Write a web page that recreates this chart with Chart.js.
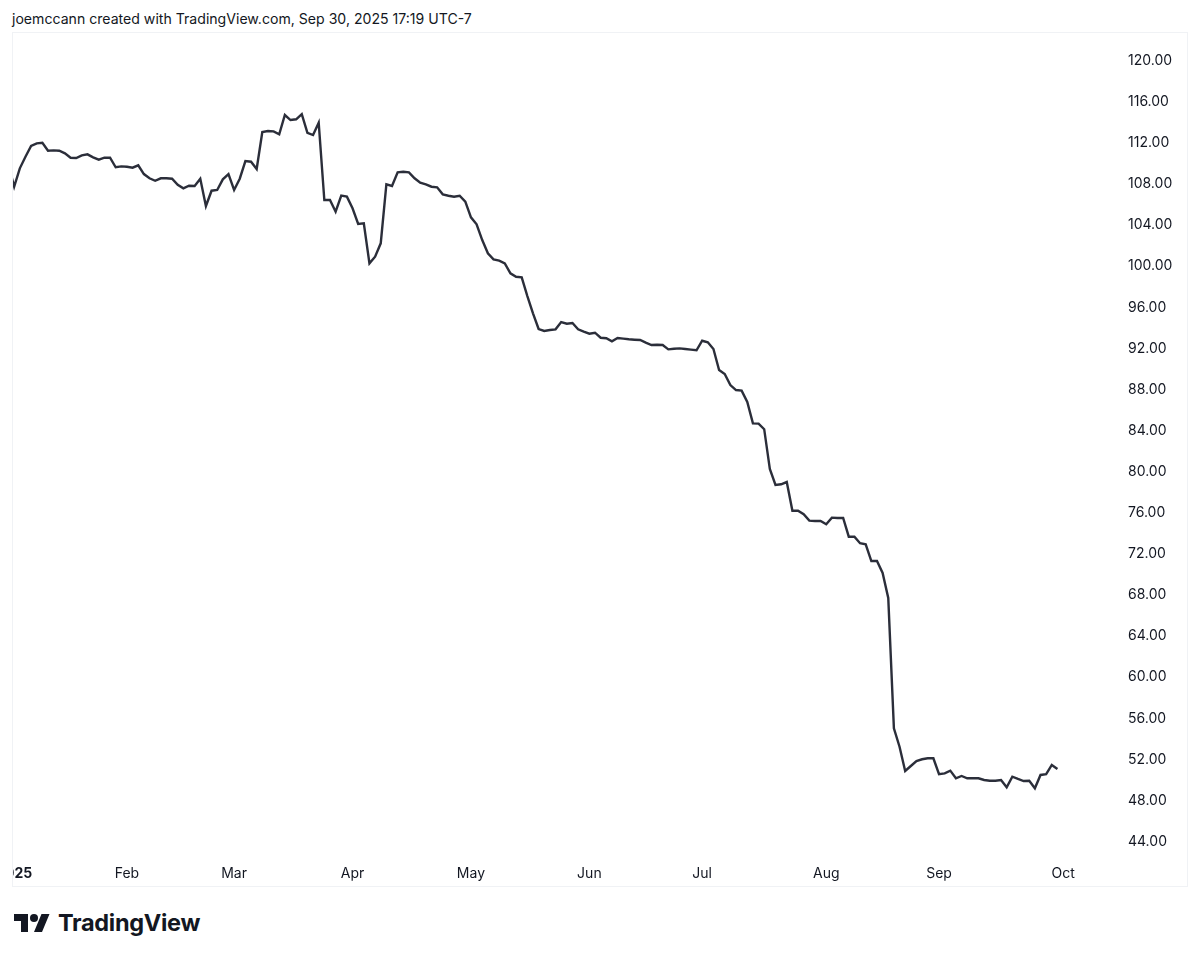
<!DOCTYPE html>
<html>
<head>
<meta charset="utf-8">
<title>Price chart</title>
<script src="https://cdn.jsdelivr.net/npm/chart.js@4.4.1/dist/chart.umd.min.js"></script>
<style>
    body { margin: 0; background: #fff; width: 1200px; height: 959px; position: relative; overflow: hidden;
           font-family: Inter, "Noto Sans", Roboto, sans-serif; color: #131722; }
    #hdr { position: absolute; left: 12px; top: 10px; font-size: 14.1px; line-height: 18px; white-space: nowrap; }
    #box { position: absolute; left: 12px; top: 32px; width: 1176px; height: 855px;
           box-sizing: border-box; border: 1px solid #f0f2f5; }
    #box canvas { display: block; }
    #logo { position: absolute; left: 14px; top: 910px; }
    #brand { position: absolute; left: 58px; top: 908px; font-size: 23.5px; line-height: 30px; font-weight: 700;
             letter-spacing: -0.3px; }
</style>
</head>
<body>
<div id="hdr">joemccann created with TradingView.com, Sep 30, 2025 17:19 UTC-7</div>
<div id="box"><canvas id="chart"></canvas></div>
<svg id="logo" width="36" height="28" viewBox="0 0 36 28">
    <path d="M14 22H7V11H0V4h14v18zM28 22h-8l7.5-18h8L28 22z" fill="#131722"/>
    <circle cx="20" cy="8" r="4" fill="#131722"/>
</svg>
<div id="brand">TradingView</div>
<script>
// daily closes, Dec 31 2024 then every trading day Jan 2 .. Sep 30 2025
const closes = [
    109.85,
    107.74, 109.53, 110.66, 111.70, 111.96, 112.02, 111.24, 111.28, 111.24, 110.99,
    110.56, 110.53, 110.79, 110.89, 110.60, 110.37, 110.56, 110.56, 109.63, 109.72,
    109.68, 109.59, 109.82, 108.97, 108.56, 108.32, 108.56, 108.56, 108.52, 107.93,
    107.58, 107.84, 107.81, 108.52, 105.86, 107.35, 107.42, 108.46, 108.97,
    107.42, 108.52, 110.24, 110.17, 109.46, 113.06, 113.16, 113.13, 112.84, 114.72,
    114.23, 114.30, 114.81, 112.99, 112.77, 113.97, 106.44, 106.44, 105.31, 106.88,
    106.77,
    105.64, 104.11, 104.18, 100.28, 100.93, 102.23, 107.97, 107.81, 109.14, 109.20,
    109.14, 108.56, 108.13, 107.97, 107.74, 107.68, 107.00, 106.86, 106.77, 106.86,
    106.28,
    104.76, 104.08, 102.55, 101.26, 100.67, 100.54, 100.28, 99.31, 98.98, 98.92,
    97.10, 95.42, 93.89, 93.70, 93.79, 93.86, 94.57, 94.41, 94.47, 93.86,
    93.63,
    93.43, 93.53, 93.04, 92.99, 92.69, 93.01, 92.95, 92.89, 92.85, 92.82,
    92.56, 92.33, 92.36, 92.33, 91.91, 91.97, 92.01, 91.94, 91.88, 91.82,
    92.75, 92.60, 91.94, 89.90, 89.51, 88.44, 87.95, 87.89, 86.79, 84.71,
    84.68, 84.14, 80.27, 78.71, 78.78, 79.00, 76.21, 76.21, 75.86, 75.24,
    75.21, 75.21,
    74.89, 75.53, 75.50, 75.50, 73.68, 73.68, 73.04, 72.94, 71.31, 71.31,
    70.15, 67.71, 55.03, 53.24, 50.88, 51.36, 51.85, 52.02, 52.11, 52.11,
    50.56, 50.65, 50.91, 50.17, 50.39, 50.17, 50.17, 50.17, 50.00, 49.93,
    49.93, 50.00, 49.29, 50.32, 50.10, 49.90, 49.93, 49.19, 50.49, 50.56,
    51.46, 51.07
];
// trading-day index of the first session of each month (Jan 2 = 0)
const monthStarts = [0, 20, 39, 60, 81, 102, 122, 144, 164, 186];
const monthLabels = ['2025', 'Feb', 'Mar', 'Apr', 'May', 'Jun', 'Jul', 'Aug', 'Sep', 'Oct'];
const priceTicks = [44, 48, 52, 56, 60, 64, 68, 72, 76, 80, 84, 88, 92, 96, 100, 104, 108, 112, 116, 120];

const points = closes.map((v, i) => ({x: i - 1, y: v}));
const tickFont = {family: 'Inter, "Noto Sans", sans-serif', size: 14};

new Chart(document.getElementById('chart').getContext('2d'), {
    type: 'line',
    data: {
        datasets: [{
            data: points,
            borderColor: '#2b2e3a',
            borderWidth: 2.4,
            pointRadius: 0,
            tension: 0,
            fill: false,
            clip: 0
        }]
    },
    options: {
        animation: false,
        responsive: true,
        maintainAspectRatio: false,
        layout: {padding: 0},
        plugins: {legend: {display: false}, tooltip: {enabled: false}},
        scales: {
            x: {
                type: 'linear',
                min: -0.21,
                max: 195.74,
                grid: {display: false, drawTicks: false},
                border: {display: false},
                afterBuildTicks: (scale) => {
                    scale.ticks = monthStarts.map(v => ({value: v}));
                },
                afterFit: (scale) => {
                    scale.height = 31;
                    scale.paddingLeft = 0;
                    scale.paddingRight = 0;
                },
                ticks: {
                    autoSkip: false,
                    maxRotation: 0,
                    padding: 10,
                    color: '#131722',
                    font: (ctx) => ({...tickFont, weight: ctx.index === 0 ? 'bold' : 'normal'}),
                    callback: (value) => monthLabels[monthStarts.indexOf(value)]
                }
            },
            y: {
                position: 'right',
                min: 42.70,
                max: 122.70,
                grid: {display: false, drawTicks: false},
                border: {display: false},
                afterBuildTicks: (scale) => {
                    scale.ticks = priceTicks.map(v => ({value: v}));
                },
                afterFit: (scale) => {
                    scale.width = 69;
                    scale.paddingTop = 0;
                    scale.paddingBottom = 0;
                },
                ticks: {
                    padding: 10,
                    color: '#131722',
                    font: tickFont,
                    callback: (value) => value.toFixed(2)
                }
            }
        }
    }
});
</script>
</body>
</html>
